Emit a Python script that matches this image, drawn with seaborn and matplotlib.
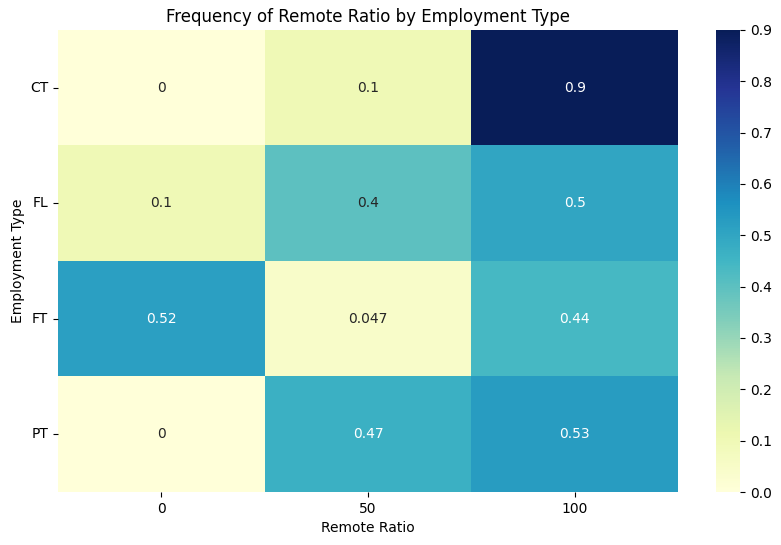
import numpy as np
import pandas as pd
import seaborn as sns
import matplotlib
matplotlib.use("Agg")
import matplotlib.pyplot as plt

employment_types = ["CT", "FL", "FT", "PT"]
remote_ratios = [0, 50, 100]
freq_ct = [0.0, 0.1, 0.9]
freq_fl = [0.1, 0.4, 0.5]
freq_ft = [0.52, 0.047, 0.44]
freq_pt = [0.0, 0.47, 0.53]

df = pd.DataFrame([freq_ct, freq_fl, freq_ft, freq_pt],
                  index=pd.Index(employment_types, name="Employment Type"),
                  columns=pd.Index(remote_ratios, name="Remote Ratio"))

fig = plt.figure(figsize=(7.81, 5.45), dpi=100)
ax = fig.add_axes([0.0743, 0.0972, 0.7939, 0.848])
cax = fig.add_axes([0.9168, 0.0972, 0.0307, 0.848])

sns.heatmap(df, annot=True, cmap="YlGnBu", ax=ax, cbar_ax=cax)
ax.set_yticklabels(ax.get_yticklabels(), rotation=0)
ax.set_title("Frequency of Remote Ratio by Employment Type")

fig.savefig("out.png", dpi=100)
